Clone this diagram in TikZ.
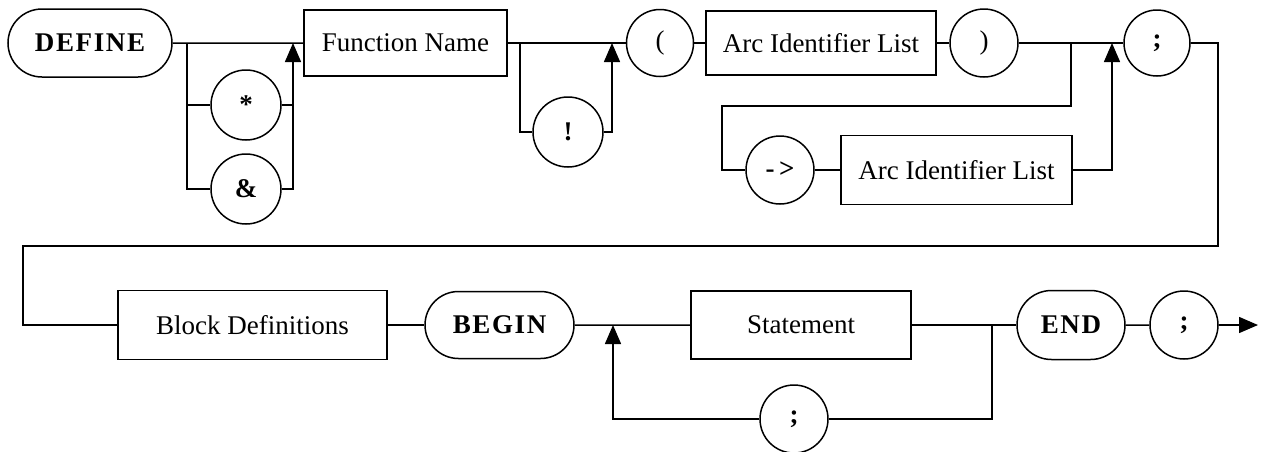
\documentclass[tikz,border=0pt]{standalone}
\usepackage{fontspec}
\setmainfont{Liberation Serif}
\newfontfamily\kwfont[LetterSpace=6]{Liberation Serif}
\usetikzlibrary{shapes.misc,arrows.meta}
\begin{document}
\begin{tikzpicture}[x=1pt,y=-1pt,
  line width=1.5pt,
  every node/.style={font=\fontsize{27}{32}\selectfont, inner sep=0pt},
  term/.style={draw, rectangle, minimum height=66pt},
  kw/.style={draw, rounded rectangle, minimum height=68pt, font=\fontsize{27}{32}\selectfont\kwfont\bfseries},
  tok/.style={draw, circle, minimum size=68pt},
  arr/.style={-{Triangle[length=19pt,width=16pt]}}
]
\useasboundingbox (0,0) rectangle (1267,451);
% top row
\node[kw, minimum width=164pt] (define) at (90,43) {DEFINE};
\node[tok, minimum size=70pt, font=\fontsize{27}{32}\selectfont\bfseries] (star) at (246,105) {*};
\node[tok, minimum size=70pt, font=\fontsize{27}{32}\selectfont\bfseries] (amp) at (246,189) {\&};
\node[term, minimum width=203pt] (fn) at (405.5,43) {Function Name};
\node[tok, minimum size=70pt, font=\fontsize{27}{32}\selectfont\bfseries] (bang) at (568,132) {!};
\node[tok, minimum size=67pt] (lp) at (660,43) {(};
\node[term, minimum width=230pt, minimum height=64pt] (ail) at (821,43) {Arc Identifier List};
\node[tok] (rp) at (984,43) {)};
\node[tok, font=\fontsize{27}{32}\selectfont\bfseries] (arw) at (780,170) {-\,>};
\node[term, minimum width=231pt, minimum height=69pt] (ail2) at (956.5,170) {Arc Identifier List};
\node[tok, minimum size=66pt, font=\fontsize{27}{32}\selectfont\bfseries] (semi1) at (1157,43) {;};
% bottom row
\node[term, minimum width=269pt, minimum height=69pt] (blk) at (252.5,325) {Block Definitions};
\node[kw, minimum width=149pt, minimum height=67pt] (begin) at (499.5,325) {BEGIN};
\node[term, minimum width=220pt, minimum height=68pt] (stmt) at (801,325) {Statement};
\node[tok, font=\fontsize{27}{32}\selectfont\bfseries] (semi2) at (794,419) {;};
\node[kw, minimum width=108pt, minimum height=69pt] (endn) at (1071,325) {END};
\node[tok, font=\fontsize{27}{32}\selectfont\bfseries] (semi3) at (1184,325) {;};
% junctions
\coordinate (j1) at (187,43);
\coordinate (j2) at (293,43);
\coordinate (j3) at (520,43);
\coordinate (j4) at (612,43);
\coordinate (j5) at (1071,43);
\coordinate (k1) at (722,106);
\coordinate (j6) at (1112,43);
\coordinate (r1) at (1218,246);
\coordinate (l1) at (23,246);
\coordinate (j7) at (613,325);
\coordinate (j8) at (992,325);
\coordinate (out) at (1258,325);
% top connectors
\draw (define) -- (fn);
\draw (j1) |- (amp);
\draw (j1 |- star) -- (star);
\draw (star) -- (star -| j2);
\draw[arr] (amp) -| (j2);
\draw (fn) -- (lp);
\draw (j3) |- (bang);
\draw[arr] (bang) -| (j4);
\draw (lp) -- (ail);
\draw (ail) -- (rp);
\draw (rp) -- (semi1);
\draw (j5) |- (k1) |- (arw);
\draw (arw) -- (ail2);
\draw[arr] (ail2) -| (j6);
\draw (semi1) -| (r1) -- (l1) |- (blk);
% bottom connectors
\draw (blk) -- (begin);
\draw (begin) -- (stmt);
\draw (stmt) -- (endn);
\draw (endn) -- (semi3);
\draw[arr] (semi3) -- (out);
\draw (j8) |- (semi2);
\draw[arr] (semi2) -| (j7);
\end{tikzpicture}
\end{document}
